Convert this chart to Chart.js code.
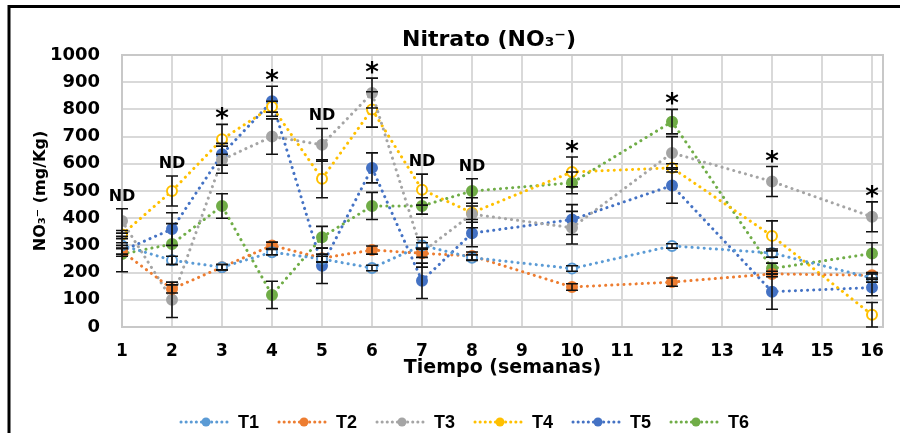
<!DOCTYPE html>
<html><head><meta charset="utf-8">
<script src="https://cdn.jsdelivr.net/npm/chart.js@4.4.0/dist/chart.umd.min.js"></script>
<style>html,body{margin:0;padding:0;background:#fff;}#wrap{width:900px;height:433px;}</style>
</head><body><div id="wrap"><canvas id="c" width="900" height="433"></canvas></div>
<script>
// ---- data ----
const weeks = [1, 2, 3, 4, 5, 6, 7, 8, 10, 12, 14, 16];
const seriesNames = ['T1', 'T2', 'T3', 'T4', 'T5', 'T6'];
const t1 = [300, 245, 220, 275, 250, 217, 300, 255, 215, 298, 272, 180];
const t2 = [278, 140, 220, 300, 253, 283, 271, 261, 147, 165, 195, 190];
const t3 = [390, 100, 615, 700, 670, 860, 275, 415, 365, 640, 535, 405];
const t4 = [340, 500, 690, 810, 545, 800, 505, 420, 570, 585, 335, 45];
const t5 = [280, 360, 635, 830, 225, 585, 170, 345, 395, 520, 130, 145];
const t6 = [268, 305, 445, 118, 330, 445, 445, 500, 530, 755, 215, 270];
const t1Err = [10, 15, 10, 10, 10, 10, 10, 10, 10, 8, 15, 15];
const t2Err = [10, 15, 10, 12, 15, 15, 15, 15, 12, 15, 10, 10];
const t3Err = [45, 65, 50, 65, 60, 55, 55, 30, 60, 60, 55, 55];
const t4Err = [15, 55, 55, 20, 70, 65, 57, 55, 55, 15, 55, 45];
const t5Err = [20, 60, 40, 55, 65, 55, 65, 50, 55, 65, 65, 30];
const t6Err = [65, 75, 45, 50, 40, 50, 30, 45, 40, 45, 20, 40];
const marks = ['ND', 'ND', '*', '*', 'ND', '*', 'ND', 'ND', '*', '*', '*', '*'];
const colors = ['#5B9BD5', '#ED7D31', '#A5A5A5', '#FFC000', '#4472C4', '#70AD47'];
const hollow = [true, false, false, true, false, false];
const titleText = 'Nitrato (NO\u2083\u207B)';
const xTitle = 'Tiempo (semanas)';
const yTitle = 'NO\u2083\u207B (mg/Kg)';

const values = [t1, t2, t3, t4, t5, t6];
const errors = [t1Err, t2Err, t3Err, t4Err, t5Err, t6Err];

const datasets = seriesNames.map((n, i) => ({
  label: n,
  data: weeks.map((w, j) => ({x: w, y: values[i][j]})),
  borderColor: colors[i],
  backgroundColor: colors[i],
  borderWidth: 3,
  borderDash: [0.1, 6],
  borderCapStyle: 'round',
  pointRadius: 5,
  pointBorderWidth: 2,
  pointBackgroundColor: hollow[i] ? '#ffffff' : colors[i],
  pointBorderColor: colors[i],
  tension: 0,
  fill: false
}));

const FONT = "'DejaVu Sans', Verdana, sans-serif";

const decor = {
  id: 'decor',
  beforeDraw(chart) {
    const ctx = chart.ctx;
    ctx.save();
    ctx.fillStyle = '#fff';
    ctx.fillRect(0, 0, chart.width, chart.height);
    ctx.strokeStyle = '#000';
    ctx.lineWidth = 3;
    ctx.beginPath();
    ctx.moveTo(9, chart.height);
    ctx.lineTo(9, 6.5);
    ctx.lineTo(chart.width, 6.5);
    ctx.stroke();
    ctx.restore();
  },
  beforeDatasetsDraw(chart) {
    const {ctx, chartArea: a} = chart;
    ctx.save();
    ctx.strokeStyle = '#c8c8c8';
    ctx.lineWidth = 2;
    ctx.strokeRect(a.left, a.top, a.right - a.left, a.bottom - a.top);
    ctx.restore();
  },
  afterDatasetsDraw(chart) {
    const {ctx} = chart;
    const xs = chart.scales.x, ys = chart.scales.y;
    ctx.save();
    // error bars
    ctx.strokeStyle = '#111';
    ctx.lineWidth = 1.6;
    values.forEach((vals, i) => {
      vals.forEach((v, j) => {
        const e = errors[i][j];
        const x = xs.getPixelForValue(weeks[j]);
        const yt = ys.getPixelForValue(v + e);
        const yb = ys.getPixelForValue(Math.max(0, v - e));
        ctx.beginPath();
        ctx.moveTo(x, yt); ctx.lineTo(x, yb);
        ctx.moveTo(x - 6, yt); ctx.lineTo(x + 6, yt);
        ctx.moveTo(x - 6, yb); ctx.lineTo(x + 6, yb);
        ctx.stroke();
      });
    });
    // significance marks
    ctx.fillStyle = '#000';
    ctx.textAlign = 'center';
    ctx.textBaseline = 'alphabetic';
    marks.forEach((m, j) => {
      let top = Infinity;
      values.forEach((vals, i) => {
        top = Math.min(top, ys.getPixelForValue(vals[j] + errors[i][j]));
      });
      const x = xs.getPixelForValue(weeks[j]);
      if (m === '*') {
        ctx.font = 'bold 26px ' + FONT;
        ctx.fillText(m, x, top + 3);
      } else {
        ctx.font = 'bold 16px ' + FONT;
        ctx.fillText(m, x, top - 8);
      }
    });
    // title
    ctx.font = 'bold 22px ' + FONT;
    ctx.textBaseline = 'middle';
    ctx.fillText(titleText, 489, 40);
    ctx.restore();
  },
  afterDraw(chart) {
    const ctx = chart.ctx;
    ctx.save();
    const y = 422;
    seriesNames.forEach((n, i) => {
      const cx = 206 + i * 98;
      ctx.strokeStyle = colors[i];
      ctx.lineWidth = 3;
      ctx.lineCap = 'round';
      ctx.setLineDash([0.1, 5]);
      ctx.beginPath();
      ctx.moveTo(cx - 25, y); ctx.lineTo(cx + 25, y);
      ctx.stroke();
      ctx.setLineDash([]);
      ctx.fillStyle = colors[i];
      ctx.beginPath();
      ctx.arc(cx, y, 4.5, 0, Math.PI * 2);
      ctx.fill();
      ctx.fillStyle = '#000';
      ctx.font = "bold 18px 'Liberation Sans Narrow', 'Liberation Sans', sans-serif";
      ctx.textAlign = 'left';
      ctx.textBaseline = 'middle';
      ctx.fillText(n, cx + 32, y + 1);
    });
    ctx.restore();
  }
};

new Chart(document.getElementById('c'), {
  type: 'line',
  data: {datasets},
  plugins: [decor],
  options: {
    responsive: false,
    animation: false,
    layout: {padding: {left: 30, right: 17, top: 55, bottom: 54}},
    plugins: {legend: {display: false}, title: {display: false}, tooltip: {enabled: false}},
    scales: {
      x: {
        type: 'linear',
        min: 1,
        max: 16.22,
        afterFit(s) { s.height = 52; },
        ticks: {stepSize: 1, includeBounds: false, autoSkip: false, padding: 14,
          color: '#000', font: {family: FONT, size: 17, weight: 'bold'},
          callback: (v) => String(v)},
        grid: {color: '#d9d9d9', lineWidth: 2, drawTicks: false},
        border: {display: false},
        title: {display: true, text: xTitle, color: '#000', padding: {top: 0, bottom: 0},
          font: {family: FONT, size: 19, weight: 'bold'}}
      },
      y: {
        min: 0,
        max: 1000,
        afterFit(s) { s.width = 92; },
        ticks: {stepSize: 100, padding: 22, color: '#000',
          font: {family: FONT, size: 18, weight: 'bold'},
          callback: (v) => String(v)},
        grid: {color: '#d9d9d9', lineWidth: 2, drawTicks: false},
        border: {display: false},
        title: {display: true, text: yTitle, color: '#000', padding: {top: 1, bottom: 0},
          font: {family: FONT, size: 16, weight: 'bold'}}
      }
    }
  }
});
</script>
</body></html>
